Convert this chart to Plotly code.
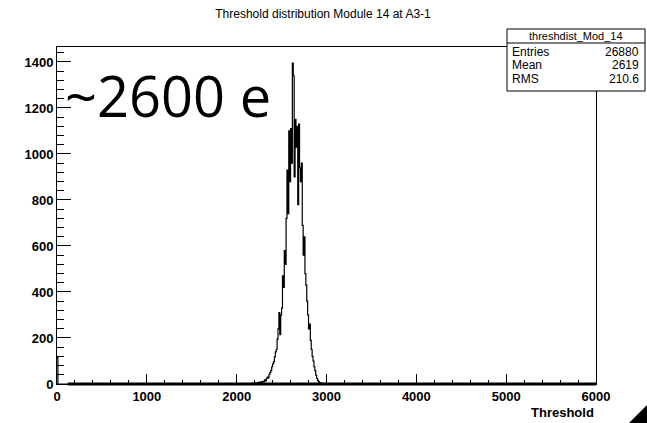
import numpy as np
import plotly.graph_objects as go

# histogram: 600 bins of width 10 between 0 and 6000
bin_width = 10
x_min, x_max = 0, 6000
zero_bin_count = 115          # pile-up in the first bin
peak_start = 2150             # first bin of the peak region
peak_counts = [
    2, 0, 4, 0, 1, 5, 2, 0, 6, 3,               # 2150-2240
    8, 4, 9, 6, 12, 10, 18, 14, 24, 30,         # 2250-2340
    26, 42, 50, 58, 75, 88, 96, 118, 140, 150,  # 2350-2440
    195, 240, 310, 215, 300, 330, 470, 420, 580, 520,   # 2450-2540
    720, 930, 740, 1100, 880, 1110, 960, 1395, 1340, 900,  # 2550-2640
    1150, 1030, 1120, 780, 1130, 940, 880, 960, 690, 560,  # 2650-2740
    640, 480, 430, 360, 300, 240, 260, 190, 150, 120,      # 2750-2840
    100, 75, 58, 38, 25, 16, 10, 6, 3, 4,                  # 2850-2940
    0, 1,                                                  # 2950-2960
]

stats_name = "threshdist_Mod_14"
stats_labels = ["Entries", "Mean", "RMS"]
stats_values = ["26880", "2619", "210.6"]

edges = np.arange(x_min, x_max + bin_width, bin_width)
counts = np.zeros(len(edges) - 1)
counts[0] = zero_bin_count
i0 = (peak_start - x_min) // bin_width
counts[i0:i0 + len(peak_counts)] = peak_counts
# repeat last value so the step closes at the right edge
ys = np.append(counts, counts[-1])

fig = go.Figure()
fig.add_trace(go.Scatter(
    x=edges, y=ys, mode="lines", line=dict(color="black", width=1.2, shape="hv"),
    hoverinfo="skip", showlegend=False,
))

font = "Liberation Sans, Arial, sans-serif"
axis_common = dict(
    showgrid=False, zeroline=False, ticks="inside", color="black", automargin=False,
    showline=True, linecolor="black", linewidth=1, mirror=True,
    tickfont=dict(family=font, size=13, color="black", weight="bold"),
)
fig.update_xaxes(range=[x_min, x_max], dtick=1000, ticklen=10, tickwidth=1,
                 minor=dict(dtick=200, ticklen=4, ticks="inside", tickcolor="black"),
                 **axis_common)
fig.update_yaxes(range=[0, 1465], dtick=200, ticklen=14, tickwidth=1,
                 minor=dict(dtick=40, ticklen=7, ticks="inside", tickcolor="black"),
                 **axis_common)

# thick baseline where the empty bins run along the axis
fig.add_shape(type="line", xref="x", yref="paper", x0=120, x1=x_max, y0=0, y1=0,
              line=dict(color="black", width=3))

W, H = 647, 423
fig.update_layout(
    width=W, height=H,
    margin=dict(l=57, r=W - 596, t=47, b=H - 384, autoexpand=False),
    plot_bgcolor="white", paper_bgcolor="white",
    title=dict(text="Threshold distribution Module 14 at A3-1", x=323 / W,
               xanchor="center", y=1 - 14 / H, yanchor="middle",
               font=dict(family=font, size=12, color="black")),
)


# pixel positions of the screenshot converted to paper coordinates
def px(x):
    return (x - 57) / 539


def py(y):
    return (384 - y) / 337


fig.add_annotation(text="Threshold", xref="paper", yref="paper", x=1, y=py(412),
                   xanchor="right", yanchor="middle", showarrow=False,
                   font=dict(family=font, size=13, color="black", weight="bold"))

fig.add_annotation(text="~2600 e", xref="paper", yref="paper", x=px(63),
                   y=py(95), xanchor="left", yanchor="middle", showarrow=False,
                   font=dict(family="Open Sans, Noto Sans, sans-serif", size=56, color="black"))

# stats box
fig.add_shape(type="rect", xref="paper", yref="paper", x0=px(507), x1=px(645),
              y0=py(91), y1=py(29), line=dict(color="black", width=1), fillcolor="white")
fig.add_shape(type="line", xref="paper", yref="paper", x0=px(507), x1=px(645),
              y0=py(43), y1=py(43), line=dict(color="black", width=1))
fig.add_annotation(text=stats_name, xref="paper", yref="paper", x=px(576), y=py(36),
                   xanchor="center", yanchor="middle", showarrow=False,
                   font=dict(family=font, size=11, color="black"))
for k, (lab, val) in enumerate(zip(stats_labels, stats_values)):
    yy = py(52 + 13.5 * k)
    fig.add_annotation(text=lab, xref="paper", yref="paper", x=px(510), y=yy,
                       xanchor="left", yanchor="middle", showarrow=False,
                       font=dict(family=font, size=12, color="black"))
    fig.add_annotation(text=val, xref="paper", yref="paper", x=px(641), y=yy,
                       xanchor="right", yanchor="middle", showarrow=False,
                       font=dict(family=font, size=12, color="black"))

# dark corner from the slide
fig.add_shape(type="path", xref="paper", yref="paper",
              path=f"M {px(647)},{py(405)} L {px(647)},{py(423)} L {px(629)},{py(423)} Z",
              fillcolor="black", line=dict(width=0))

# drop the default 8px page margin so the figure sits at the window's corner
fig.write_html("out.html", config={"displayModeBar": False},
               post_script="document.body.style.margin='0';")
